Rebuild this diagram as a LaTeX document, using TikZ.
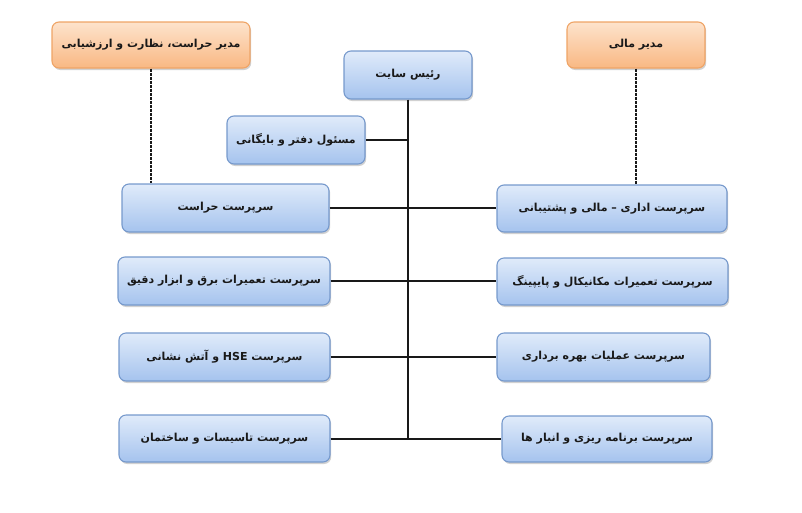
\documentclass[tikz,border=0pt]{standalone}
\usepackage{fontspec}
\usetikzlibrary{shadows}
\newfontfamily\arabicfont[Script=Arabic]{DejaVu Sans}
\newfontfamily\latinfont{DejaVu Sans}
\TeXXeTstate=1
\definecolor{bluetop}{HTML}{E0EBFA}
\definecolor{bluebot}{HTML}{A5C3EE}
\definecolor{blueedge}{HTML}{7699CC}
\definecolor{orgtop}{HTML}{FDE3CC}
\definecolor{orgbot}{HTML}{F9B883}
\definecolor{orgedge}{HTML}{EFA466}
\tikzset{
  basebox/.style={rounded corners=7pt, line width=1.1pt, inner sep=0pt,
    drop shadow={shadow xshift=1.2pt, shadow yshift=-2pt, opacity=0.3, fill=black!60}},
  bluebox/.style={basebox, draw=blueedge, top color=bluetop, bottom color=bluebot},
  orangebox/.style={basebox, draw=orgedge, top color=orgtop, bottom color=orgbot},
  lbl/.style={font=\arabicfont\bfseries\fontsize{11}{13}\selectfont, text=black!90},
  link/.style={line width=2pt, draw=black!90},
  dashlink/.style={line width=2.2pt, draw=black!90, dash pattern=on 3pt off 1pt}
}
\newcommand{\bx}[6]{% style, name, x1, y1, x2, y2
  \node[#1, minimum width={#5-#3}, minimum height={#6-#4}] (#2) at ({(#3+#5)/2},{(#4+#6)/2}) {};}
\begin{document}
\begin{tikzpicture}[x=1pt,y=-1pt]
\useasboundingbox (0,0) rectangle (802,512);
\coordinate (bot) at (408,439);
\coordinate (r1) at (408,208);
\coordinate (r2) at (408,281);
\coordinate (r3) at (408,357);
% boxes
\bx{orangebox}{mh}{52}{22}{250}{68}
\bx{orangebox}{mm}{567}{22}{705}{68}
\bx{bluebox}{rs}{344}{51}{472}{99}
\bx{bluebox}{md}{227}{116}{365}{164}
\bx{bluebox}{la}{122}{184}{329}{232}
\bx{bluebox}{ra}{497}{185}{727}{232}
\bx{bluebox}{lb}{118}{257}{330}{305}
\bx{bluebox}{rb}{497}{258}{728}{305}
\bx{bluebox}{lc}{119}{333}{330}{381}
\bx{bluebox}{rc}{497}{333}{710}{381}
\bx{bluebox}{ld}{119}{415}{330}{462}
\bx{bluebox}{rd}{502}{416}{712}{462}
% texts
\node[lbl] at (mh) {\beginR مدیر حراست، نظارت و ارزشیابی\endR};
\node[lbl] at (mm) {\beginR مدیر مالی\endR};
\node[lbl] at (rs) {\beginR رئیس سایت\endR};
\node[lbl] at (md) {\beginR مسئول دفتر و بایگانی\endR};
\node[lbl] at (la) {\beginR سرپرست حراست\endR};
\node[lbl] at (ra) {\beginR سرپرست اداری – مالی و پشتیبانی\endR};
\node[lbl] at (lb) {\beginR سرپرست تعمیرات برق و ابزار دقیق\endR};
\node[lbl] at (rb) {\beginR سرپرست تعمیرات مکانیکال و پایپینگ\endR};
\node[lbl] at (lc) {\beginR سرپرست \beginL{\latinfont\bfseries HSE}\endL{} و آتش نشانی\endR};
\node[lbl] at (rc) {\beginR سرپرست عملیات بهره برداری\endR};
\node[lbl] at (ld) {\beginR سرپرست تاسیسات و ساختمان\endR};
\node[lbl] at (rd) {\beginR سرپرست برنامه ریزی و انبار ها\endR};
% connectors
\draw[link] (rs.south) -- (rs.south |- bot);
\draw[link] (md.east) -- (md.east -| rs.south);
\draw[link] (la.east |- r1) -- (ra.west |- r1);
\draw[link] (lb.east |- r2) -- (rb.west |- r2);
\draw[link] (lc.east |- r3) -- (rc.west |- r3);
\draw[link] (ld.east |- bot) -- (rd.west |- bot);
\draw[dashlink] (mh.south) -- (mh.south |- la.north);
\draw[dashlink] (mm.south) -- (mm.south |- ra.north);
\end{tikzpicture}
\end{document}
